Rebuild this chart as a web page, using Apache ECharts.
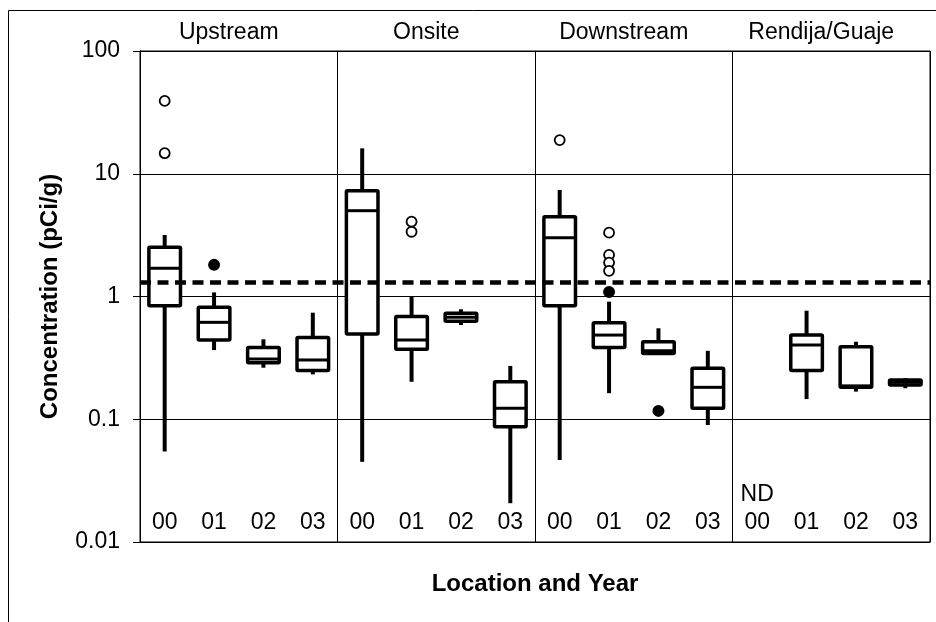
<!DOCTYPE html>
<html><head><meta charset="utf-8">
<script src="https://cdn.jsdelivr.net/npm/echarts@6/dist/echarts.min.js"></script>
<style>html,body{margin:0;padding:0;background:#fff}#c{width:936px;height:622px}</style>
</head><body><div id="c"></div>
<script>
const locations = ['Upstream', 'Onsite', 'Downstream', 'Rendija/Guaje'];
const years = ['00', '01', '02', '03'];
// per category (location x year), null = no data
const whiskerLow  = [0.0545, 0.366, 0.263, 0.232,  0.045, 0.202, 0.586, 0.0207,  0.0466, 0.163, 0.344, 0.0897,  null, 0.146, 0.168, 0.179];
const q1          = [0.84,   0.443, 0.289, 0.249,  0.494, 0.372, 0.63,  0.087,   0.84,   0.385, 0.344, 0.123,   null, 0.249, 0.182, 0.19];
const median      = [1.70,   0.616, 0.31,  0.304,  5.0,   0.443, 0.678, 0.123,   3.01,   0.485, 0.361, 0.182,   null, 0.403, 0.187, 0.2];
const q3          = [2.52,   0.816, 0.385, 0.464,  7.28,  0.686, 0.73,  0.202,   4.47,   0.612, 0.428, 0.26,    null, 0.485, 0.39,  0.209];
const whiskerHigh = [3.17,   1.08,  0.448, 0.738,  16.1,  1.01,  0.787, 0.272,   7.37,   0.908, 0.551, 0.361,   null, 0.766, 0.428, 0.216];
const openOutliers = [
  ['Upstream', '00', 39.2], ['Upstream', '00', 14.7],
  ['Onsite', '01', 4.07], ['Onsite', '01', 3.37],
  ['Downstream', '00', 18.8],
  ['Downstream', '01', 3.31], ['Downstream', '01', 2.18], ['Downstream', '01', 1.89], ['Downstream', '01', 1.62]
];
const filledOutliers = [['Upstream', '01', 1.81], ['Downstream', '01', 1.09], ['Downstream', '02', 0.117]];
const noData = [['Rendija/Guaje', '00']];
const screeningLevel = 1.3;
const yTicks = [0.01, 0.1, 1, 10, 100];

const FONT = "'Liberation Sans', Arial, sans-serif";
const categories = locations.flatMap(l => years.map(y => l + '|' + y));
const catIndex = (l, y) => categories.indexOf(l + '|' + y);
const noDataKeys = noData.map(d => d[0] + '|' + d[1]);

const boxData = [];
for (let i = 0; i < categories.length; i++) {
  if (median[i] == null) continue;
  boxData.push([i, whiskerLow[i], q1[i], median[i], q3[i], whiskerHigh[i]]);
}

const chart = echarts.init(document.getElementById('c'), null, {renderer: 'canvas'});
chart.setOption({
  animation: false,
  backgroundColor: '#fff',
  graphic: [{
    type: 'rect', silent: true, z: -10,
    shape: {x: 8.5, y: 10.5, width: 1000, height: 1000},
    style: {fill: null, stroke: '#000', lineWidth: 1}
  }],
  grid: {left: 140, top: 51, right: 6, bottom: 80, containLabel: false,
    show: true, borderColor: '#000', borderWidth: 1, backgroundColor: 'transparent'},
  xAxis: [{
    type: 'category', data: categories, position: 'bottom',
    axisLine: {show: true, lineStyle: {color: '#000', width: 1}},
    axisTick: {show: false},
    splitLine: {show: false},
    axisLabel: {
      inside: true, margin: 5, interval: 0, color: '#000', fontFamily: FONT, fontSize: 23, lineHeight: 28,
      formatter: v => (noDataKeys.includes(v) ? 'ND\n' : '') + v.split('|')[1]
    },
    name: 'Location and Year', nameLocation: 'middle', nameGap: 30,
    nameTextStyle: {color: '#000', fontFamily: FONT, fontSize: 24, fontWeight: 'bold'}
  }, {
    type: 'category', data: locations, position: 'top',
    axisLine: {show: false}, axisTick: {show: false},
    splitLine: {show: true, interval: 0, lineStyle: {color: '#000', width: 1}},
    axisLabel: {margin: 7, interval: 0, color: '#000', fontFamily: FONT, fontSize: 23, padding: [0, 20, 0, 0]}
  }],
  yAxis: {
    type: 'log', logBase: 10, min: 0.01, max: 100,
    axisLine: {show: true, lineStyle: {color: '#000', width: 1}},
    axisTick: {show: true, length: 7, lineStyle: {color: '#000'}},
    minorTick: {show: false},
    splitLine: {show: true, lineStyle: {color: '#000', width: 1}},
    axisLabel: {
      margin: 20, color: '#000', fontFamily: FONT, fontSize: 23,
      formatter: v => {
        const t = yTicks.find(t => Math.abs(Math.log10(t) - Math.log10(v)) < 1e-6);
        return t != null ? String(t) : '';
      }
    },
    name: 'Concentration (pCi/g)', nameLocation: 'middle', nameGap: 78,
    nameTextStyle: {color: '#000', fontFamily: FONT, fontSize: 24, fontWeight: 'bold'}
  },
  series: [{
    type: 'custom', xAxisIndex: 0,
    data: boxData,
    encode: {x: 0, y: [1, 2, 3, 4, 5]},
    renderItem: (params, api) => {
      const x = api.value(0);
      const pLow = api.coord([x, api.value(1)]);
      const pQ1 = api.coord([x, api.value(2)]);
      const pMed = api.coord([x, api.value(3)]);
      const pQ3 = api.coord([x, api.value(4)]);
      const pHigh = api.coord([x, api.value(5)]);
      const bw = api.size([1, 1])[0] * 0.64;
      const cx = pMed[0];
      return {type: 'group', children: [
        {type: 'line', shape: {x1: cx, y1: pLow[1], x2: cx, y2: pQ1[1]}, style: {stroke: '#000', lineWidth: 4}},
        {type: 'line', shape: {x1: cx, y1: pQ3[1], x2: cx, y2: pHigh[1]}, style: {stroke: '#000', lineWidth: 4}},
        {type: 'rect', shape: {x: cx - bw / 2, y: pQ3[1], width: bw, height: pQ1[1] - pQ3[1], r: 1},
          style: {fill: '#fff', stroke: '#000', lineWidth: 3.5}},
        {type: 'line', shape: {x1: cx - bw / 2, y1: pMed[1], x2: cx + bw / 2, y2: pMed[1]}, style: {stroke: '#000', lineWidth: 3}}
      ]};
    },
    markLine: {
      silent: true, symbol: 'none', label: {show: false},
      lineStyle: {color: '#000', width: 4.5, type: [11, 6.5]},
      emphasis: {disabled: true},
      data: [{yAxis: screeningLevel}]
    },
    z: 3
  }, {
    type: 'scatter', xAxisIndex: 0,
    data: openOutliers.map(d => [catIndex(d[0], d[1]), d[2]]),
    symbol: 'circle', symbolSize: 10,
    itemStyle: {color: '#fff', borderColor: '#000', borderWidth: 1.8, opacity: 1},
    emphasis: {disabled: true},
    z: 4
  }, {
    type: 'scatter', xAxisIndex: 0,
    data: filledOutliers.map(d => [catIndex(d[0], d[1]), d[2]]),
    symbol: 'circle', symbolSize: 12,
    itemStyle: {color: '#000', opacity: 1},
    emphasis: {disabled: true},
    z: 4
  }]
});
</script>
</body></html>
